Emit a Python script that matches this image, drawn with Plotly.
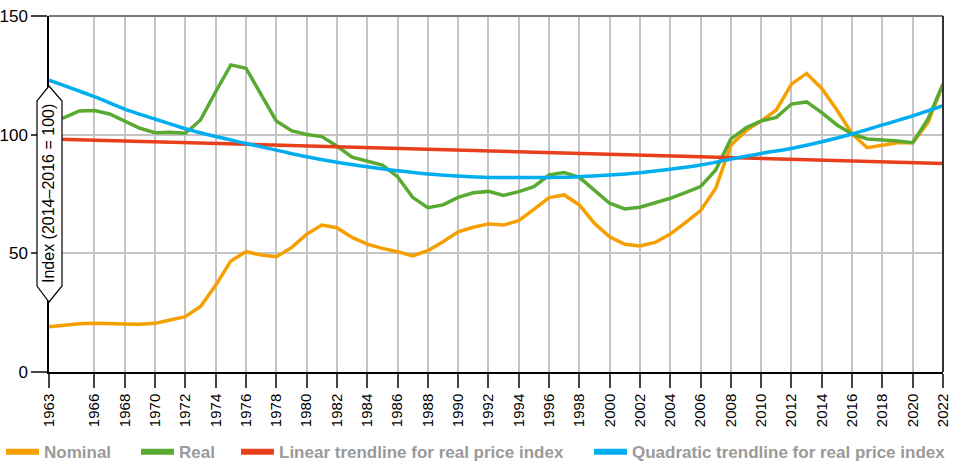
import plotly.graph_objects as go

years = list(range(1963, 2023))

nominal = [19.1, 19.8, 20.3, 20.5, 20.5, 20.2, 20.1, 20.5, 21.9, 23.3,
           27.6, 36.5, 46.8, 50.7, 49.3, 48.6, 52.4, 58.0, 61.9, 60.8,
           56.7, 53.9, 52.1, 50.7, 48.9, 51.1, 54.9, 59.1, 61.0, 62.4,
           61.9, 63.8, 68.5, 73.5, 74.6, 70.4, 62.6, 57.0, 53.8, 53.1,
           54.6, 58.1, 62.9, 68.0, 77.4, 95.6, 101.7, 105.8, 110.4, 121.3,
           125.8, 119.5, 110.4, 100.3, 94.5, 95.6, 96.6, 96.6, 105.0, 121.3]

real = [105.7, 107.2, 110.0, 110.2, 108.7, 105.5, 102.7, 100.8, 101.0, 100.6,
        106.2, 118.1, 129.4, 128.0, 116.7, 105.8, 101.7, 100.1, 99.2, 95.2,
        90.5, 88.9, 87.2, 82.3, 73.6, 69.2, 70.4, 73.6, 75.5, 76.1,
        74.4, 76.0, 78.1, 83.0, 84.0, 82.0, 76.4, 71.1, 68.7, 69.4,
        71.3, 73.2, 75.6, 78.1, 85.1, 98.2, 102.9, 105.8, 107.3, 112.9,
        113.8, 109.3, 104.1, 100.3, 98.2, 97.9, 97.3, 96.6, 106.5, 121.3]

linear_years = [1963, 2022]
linear_trend = [98.2, 87.9]

quad_years = [1963, 1966, 1968, 1970, 1972, 1974, 1976, 1978, 1980, 1982,
              1984, 1986, 1988, 1990, 1992, 1994, 1996, 1998, 2000, 2002,
              2004, 2006, 2008, 2010, 2012, 2014, 2016, 2018, 2020, 2022]
quad_trend = [123.0, 116.0, 110.8, 106.6, 102.5, 99.2, 96.3, 93.5, 90.7, 88.4,
              86.5, 84.8, 83.4, 82.6, 82.0, 81.9, 82.0, 82.3, 83.0, 84.0,
              85.4, 87.2, 89.7, 92.1, 94.2, 97.0, 100.3, 104.1, 107.9, 112.2]

tick_years = [1963, 1966] + list(range(1968, 2023, 2))
y_ticks = [0, 50, 100, 150]

series_names = ["Nominal", "Real", "Linear trendline for real price index",
                "Quadratic trendline for real price index"]
series_colors = ["#F5A000", "#58AA32", "#E8401C", "#00AEEF"]

FONT = "Liberation Sans, Arial, sans-serif"

def px_x(p):
    return (p - 49) / 894.0

def px_y(p):
    return (372 - p) / 356.0

fig = go.Figure()
data_x = [years, years, linear_years, quad_years]
data_y = [nominal, real, linear_trend, quad_trend]
shapes_ = ["linear", "linear", "linear", "spline"]
for i in range(4):
    fig.add_trace(go.Scatter(x=data_x[i], y=data_y[i], name=series_names[i], mode="lines",
                             legendgroup=f"g{i}", showlegend=False,
                             line=dict(color=series_colors[i], width=3.5, shape=shapes_[i])))

legend_ids = ["legend", "legend2", "legend3", "legend4"]
for i in range(4):
    fig.add_trace(go.Scatter(x=[None], y=[None], name=series_names[i], mode="lines",
                             legendgroup=f"g{i}", legend=legend_ids[i],
                             line=dict(color=series_colors[i], width=6)))

legend_px = [1, 136, 236, 589]
leg_common = dict(orientation="h", xanchor="left", y=-0.225, yanchor="middle",
                  font=dict(family=FONT, size=17, color="#9A9A9A", weight="bold"),
                  itemwidth=33, tracegroupgap=0, bgcolor="rgba(0,0,0,0)")

fig.update_layout(
    width=956, height=464,
    margin=dict(l=49, r=13, t=16, b=92, autoexpand=False),
    plot_bgcolor="white", paper_bgcolor="white",
    font=dict(family=FONT, size=15, color="black"),
    showlegend=True,
    legend=dict(x=px_x(legend_px[0]), **leg_common),
    legend2=dict(x=px_x(legend_px[1]), **leg_common),
    legend3=dict(x=px_x(legend_px[2]), **leg_common),
    legend4=dict(x=px_x(legend_px[3]), **leg_common),
    xaxis=dict(range=[1963, 2022], tickmode="array", tickvals=tick_years,
               ticktext=[str(t) for t in tick_years], tickangle=-90,
               ticks="outside", ticklen=14, tickcolor="#444", tickwidth=1.5,
               showgrid=True, gridcolor="#C4C4C4", gridwidth=1.5,
               showline=True, linecolor="black", linewidth=1.5,
               zeroline=False, automargin=False,
               tickfont=dict(family=FONT, size=15)),
    yaxis=dict(range=[0, 150], tickmode="array", tickvals=y_ticks,
               ticks="outside", ticklen=16, tickcolor="#444", tickwidth=1.5,
               showgrid=True, gridcolor="#C4C4C4", gridwidth=1.5,
               showline=True, linecolor="black", linewidth=1.5,
               zeroline=False, automargin=False,
               tickfont=dict(family=FONT, size=17)),
)

# top line at 150 and right border
fig.add_shape(type="line", xref="paper", yref="paper", x0=0, x1=1, y0=1, y1=1,
              line=dict(color="#7A7A7A", width=2))
fig.add_shape(type="line", xref="paper", yref="paper", x0=1, x1=1, y0=0, y1=1,
              line=dict(color="#333333", width=2))

# y axis label box with pointed ends
pts = [(37, 101), (49, 86), (62, 101), (62, 286), (49, 302), (37, 286)]
path = "M " + " L ".join(f"{px_x(a):.5f},{px_y(b):.5f}" for a, b in pts) + " Z"
fig.add_shape(type="path", xref="paper", yref="paper", path=path,
              fillcolor="white", line=dict(color="black", width=1.2))
fig.add_annotation(xref="paper", yref="paper", x=px_x(48), y=px_y(194),
                   xanchor="center", yanchor="middle",
                   text="Index (2014–2016 = 100)", showarrow=False, textangle=-90,
                   font=dict(family=FONT, size=16, color="black"))

fig.write_html("out.html", config={"displayModeBar": False},
               post_script="document.body.style.margin='0px';")
